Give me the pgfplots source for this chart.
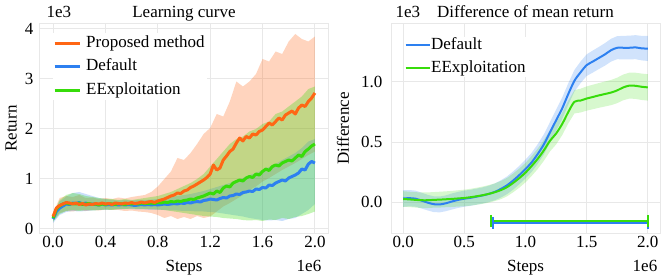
\documentclass[border=0pt]{standalone}
\usepackage{pgfplots}
\pgfplotsset{compat=1.18}
\usepackage{fontspec}
\setmainfont{Liberation Serif}
\definecolor{cO}{RGB}{255,102,20}
\definecolor{cB}{RGB}{45,128,240}
\definecolor{cG}{RGB}{55,220,10}
\definecolor{gridc}{RGB}{232,232,232}
\newcommand{\ff}{\fontsize{17bp}{20bp}\selectfont}
\pgfplotsset{
  myax/.style={
    scale only axis, anchor=south west,
    axis line style={gridc, line width=1bp},
    grid=major, grid style={gridc, line width=1bp},
    major tick length=0pt,
    tick label style={font=\ff},
    /pgf/number format/assume math mode=true,
    x tick label style={/pgf/number format/.cd, fixed, fixed zerofill, precision=1, /tikz/.cd},
    every axis x label/.style={at={(axis description cs:0.5,0)}, anchor=base, yshift=-38bp, font=\ff},
    every axis title/.style={at={(axis description cs:0.5,1)}, anchor=base, yshift=6bp, font=\ff},
    legend cell align=left,
  }
}
\begin{document}
\begin{tikzpicture}
\path[use as bounding box] (0,0) rectangle (664bp,277bp);

% ---------------- Left: learning curve ----------------
\begin{axis}[myax, at={(40bp,44bp)}, width=288bp, height=209bp,
  xmin=-0.1, xmax=2.1, ymin=-0.08, ymax=4.1,
  xtick={0,0.4,0.8,1.2,1.6,2.0}, ytick={0,1,2,3,4},
  yticklabel style={xshift=-3bp},
  title={Learning curve}, xlabel={Steps}, ylabel={Return},
  every axis y label/.style={at={(axis description cs:-0.1,0.5)}, rotate=90, anchor=center, font=\ff},
  legend style={at={(axis description cs:0.045,0.957)}, anchor=north west, draw=none, fill=white, font=\ff,
    inner sep=0pt, row sep=3.5bp, column sep=3bp, nodes={inner sep=2bp, text height=12bp, text depth=4bp}},
  legend image code/.code={\draw[#1] (0bp,0bp) -- (25bp,0bp);},
]
\addlegendimage{cO, line width=3bp}\addlegendentry{Proposed method}
\addlegendimage{cB, line width=3bp}\addlegendentry{Default}
\addlegendimage{cG, line width=3bp}\addlegendentry{EExploitation}

% orange band
\addplot[forget plot, draw=none, fill=cO, fill opacity=0.28] coordinates {
(0.00,0.32) (0.05,0.62) (0.10,0.66) (0.15,0.64) (0.20,0.68) (0.25,0.62) (0.30,0.63) (0.35,0.60) (0.40,0.62) (0.45,0.60)
(0.50,0.63) (0.55,0.61) (0.60,0.64) (0.65,0.66) (0.70,0.68) (0.75,0.74) (0.80,0.85) (0.85,1.00) (0.90,1.15) (0.95,1.42)
(1.00,1.38) (1.05,1.52) (1.10,1.70) (1.15,1.90) (1.20,2.02) (1.25,2.30) (1.30,2.25) (1.35,2.55) (1.40,2.95) (1.45,2.85)
(1.50,2.95) (1.55,3.10) (1.60,3.40) (1.65,3.35) (1.70,3.55) (1.75,3.50) (1.80,3.75) (1.85,3.90) (1.90,3.80) (1.95,3.75) (2.00,3.85)
(2.00,1.55) (1.95,1.48) (1.90,1.40) (1.85,1.32) (1.80,1.25) (1.75,1.18) (1.70,1.10) (1.65,1.02) (1.60,0.95) (1.55,0.85)
(1.50,0.78) (1.45,0.68) (1.40,0.60) (1.35,0.52) (1.30,0.45) (1.25,0.35) (1.20,0.25) (1.15,0.22) (1.10,0.26) (1.05,0.20)
(1.00,0.24) (0.95,0.20) (0.90,0.26) (0.85,0.22) (0.80,0.28) (0.75,0.32) (0.70,0.34) (0.65,0.35) (0.60,0.37) (0.55,0.36)
(0.50,0.38) (0.45,0.38) (0.40,0.39) (0.35,0.37) (0.30,0.38) (0.25,0.36) (0.20,0.38) (0.15,0.35) (0.10,0.36) (0.05,0.32) (0.00,0.18)
} -- cycle;
% blue band
\addplot[forget plot, draw=none, fill=cB, fill opacity=0.25] coordinates {
(0.00,0.30) (0.05,0.55) (0.10,0.65) (0.15,0.72) (0.20,0.74) (0.25,0.70) (0.30,0.66) (0.35,0.62) (0.40,0.60) (0.45,0.58)
(0.50,0.57) (0.55,0.58) (0.60,0.57) (0.65,0.58) (0.70,0.58) (0.75,0.59) (0.80,0.60) (0.85,0.62) (0.90,0.64) (0.95,0.66)
(1.00,0.68) (1.05,0.70) (1.10,0.73) (1.15,0.76) (1.20,0.80) (1.25,0.84) (1.30,0.88) (1.35,0.92) (1.40,0.98) (1.45,1.02)
(1.50,1.08) (1.55,1.12) (1.60,1.18) (1.65,1.24) (1.70,1.30) (1.75,1.38) (1.80,1.45) (1.85,1.52) (1.90,1.62) (1.95,1.75) (2.00,1.80)
(2.00,0.50) (1.95,0.38) (1.90,0.30) (1.85,0.22) (1.80,0.20) (1.75,0.16) (1.70,0.18) (1.65,0.17) (1.60,0.18) (1.55,0.20)
(1.50,0.22) (1.45,0.25) (1.40,0.27) (1.35,0.29) (1.30,0.31) (1.25,0.33) (1.20,0.34) (1.15,0.35) (1.10,0.35) (1.05,0.36)
(1.00,0.36) (0.95,0.37) (0.90,0.37) (0.85,0.38) (0.80,0.38) (0.75,0.38) (0.70,0.39) (0.65,0.39) (0.60,0.40) (0.55,0.40)
(0.50,0.39) (0.45,0.39) (0.40,0.38) (0.35,0.38) (0.30,0.37) (0.25,0.36) (0.20,0.35) (0.15,0.36) (0.10,0.34) (0.05,0.28) (0.00,0.12)
} -- cycle;
% green band
\addplot[forget plot, draw=none, fill=cG, fill opacity=0.3] coordinates {
(0.00,0.30) (0.05,0.58) (0.10,0.68) (0.15,0.72) (0.20,0.70) (0.25,0.66) (0.30,0.64) (0.35,0.62) (0.40,0.60) (0.45,0.60)
(0.50,0.58) (0.55,0.60) (0.60,0.58) (0.65,0.60) (0.70,0.62) (0.75,0.64) (0.80,0.66) (0.85,0.70) (0.90,0.74) (0.95,0.80)
(1.00,0.86) (1.05,0.92) (1.10,1.00) (1.15,1.10) (1.20,1.25) (1.25,1.40) (1.30,1.55) (1.35,1.70) (1.40,1.80) (1.45,1.85)
(1.50,1.95) (1.55,2.00) (1.60,2.10) (1.65,2.15) (1.70,2.30) (1.75,2.35) (1.80,2.45) (1.85,2.55) (1.90,2.65) (1.95,2.80) (2.00,2.85)
(2.00,0.35) (1.95,0.30) (1.90,0.26) (1.85,0.24) (1.80,0.20) (1.75,0.22) (1.70,0.18) (1.65,0.19) (1.60,0.16) (1.55,0.18)
(1.50,0.17) (1.45,0.18) (1.40,0.20) (1.35,0.21) (1.30,0.22) (1.25,0.24) (1.20,0.25) (1.15,0.26) (1.10,0.28) (1.05,0.30)
(1.00,0.32) (0.95,0.34) (0.90,0.36) (0.85,0.38) (0.80,0.39) (0.75,0.40) (0.70,0.40) (0.65,0.40) (0.60,0.41) (0.55,0.40)
(0.50,0.40) (0.45,0.38) (0.40,0.39) (0.35,0.38) (0.30,0.37) (0.25,0.38) (0.20,0.36) (0.15,0.38) (0.10,0.36) (0.05,0.30) (0.00,0.15)
} -- cycle;

% blue mean
\addplot[forget plot, cB, line width=3bp, line join=round] coordinates {
(0.000,0.20) (0.025,0.35) (0.050,0.42) (0.075,0.46) (0.100,0.50) (0.125,0.49) (0.150,0.52) (0.175,0.51) (0.200,0.53) (0.225,0.50)
(0.250,0.52) (0.275,0.49) (0.300,0.50) (0.325,0.49) (0.350,0.48) (0.375,0.50) (0.400,0.48) (0.425,0.49) (0.450,0.48) (0.475,0.49)
(0.500,0.48) (0.525,0.49) (0.550,0.48) (0.575,0.49) (0.600,0.48) (0.625,0.47) (0.650,0.48) (0.675,0.49) (0.700,0.48) (0.725,0.49)
(0.750,0.48) (0.775,0.49) (0.800,0.48) (0.825,0.49) (0.850,0.50) (0.875,0.49) (0.900,0.50) (0.925,0.51) (0.950,0.50) (0.975,0.52)
(1.000,0.51) (1.025,0.53) (1.050,0.52) (1.075,0.54) (1.100,0.55) (1.125,0.54) (1.150,0.57) (1.175,0.58) (1.200,0.60) (1.225,0.59)
(1.250,0.58) (1.275,0.61) (1.300,0.63) (1.325,0.62) (1.350,0.66) (1.375,0.67) (1.400,0.70) (1.425,0.69) (1.450,0.73) (1.475,0.74)
(1.500,0.76) (1.525,0.75) (1.550,0.80) (1.575,0.79) (1.600,0.83) (1.625,0.82) (1.650,0.88) (1.675,0.87) (1.700,0.92) (1.725,0.95)
(1.750,0.98) (1.775,0.96) (1.800,1.02) (1.825,1.05) (1.850,1.08) (1.875,1.12) (1.900,1.20) (1.925,1.18) (1.950,1.30) (1.975,1.35) (2.000,1.32)
};
% green mean
\addplot[forget plot, cG, line width=3bp, line join=round] coordinates {
(0.000,0.22) (0.025,0.40) (0.050,0.46) (0.075,0.50) (0.100,0.52) (0.125,0.50) (0.150,0.51) (0.175,0.50) (0.200,0.52) (0.225,0.49)
(0.250,0.50) (0.275,0.51) (0.300,0.49) (0.325,0.50) (0.350,0.48) (0.375,0.50) (0.400,0.49) (0.425,0.51) (0.450,0.50) (0.475,0.49)
(0.500,0.51) (0.525,0.50) (0.550,0.49) (0.575,0.51) (0.600,0.50) (0.625,0.51) (0.650,0.50) (0.675,0.52) (0.700,0.51) (0.725,0.51)
(0.750,0.52) (0.775,0.51) (0.800,0.53) (0.825,0.52) (0.850,0.54) (0.875,0.53) (0.900,0.55) (0.925,0.54) (0.950,0.56) (0.975,0.55)
(1.000,0.57) (1.025,0.58) (1.050,0.60) (1.075,0.59) (1.100,0.62) (1.125,0.64) (1.150,0.66) (1.175,0.69) (1.200,0.72) (1.225,0.70)
(1.250,0.76) (1.275,0.73) (1.300,0.82) (1.325,0.86) (1.350,0.84) (1.375,0.92) (1.400,0.95) (1.425,0.98) (1.450,0.96) (1.475,1.02)
(1.500,1.05) (1.525,1.03) (1.550,1.10) (1.575,1.08) (1.600,1.15) (1.625,1.20) (1.650,1.17) (1.675,1.25) (1.700,1.28) (1.725,1.26)
(1.750,1.32) (1.775,1.35) (1.800,1.38) (1.825,1.36) (1.850,1.42) (1.875,1.48) (1.900,1.45) (1.925,1.55) (1.950,1.60) (1.975,1.66) (2.000,1.70)
};
% orange mean
\addplot[forget plot, cO, line width=3bp, line join=round] coordinates {
(0.000,0.25) (0.025,0.42) (0.050,0.47) (0.075,0.50) (0.100,0.53) (0.125,0.52) (0.150,0.50) (0.175,0.52) (0.200,0.49) (0.225,0.51)
(0.250,0.48) (0.275,0.50) (0.300,0.49) (0.325,0.51) (0.350,0.50) (0.375,0.52) (0.400,0.50) (0.425,0.51) (0.450,0.49) (0.475,0.52)
(0.500,0.51) (0.525,0.50) (0.550,0.52) (0.575,0.51) (0.600,0.53) (0.625,0.51) (0.650,0.52) (0.675,0.54) (0.700,0.52) (0.725,0.54)
(0.750,0.55) (0.775,0.53) (0.800,0.56) (0.825,0.58) (0.850,0.60) (0.875,0.63) (0.900,0.66) (0.925,0.68) (0.950,0.72) (0.975,0.71)
(1.000,0.76) (1.025,0.78) (1.050,0.83) (1.075,0.86) (1.100,0.90) (1.125,0.94) (1.150,0.98) (1.175,1.03) (1.200,1.10) (1.225,1.28)
(1.250,1.18) (1.275,1.22) (1.300,1.38) (1.325,1.46) (1.350,1.55) (1.375,1.60) (1.400,1.72) (1.425,1.82) (1.450,1.76) (1.475,1.85)
(1.500,1.82) (1.525,1.90) (1.550,1.88) (1.575,1.95) (1.600,1.98) (1.625,2.05) (1.650,2.12) (1.675,2.08) (1.700,2.15) (1.725,2.22)
(1.750,2.18) (1.775,2.28) (1.800,2.32) (1.825,2.36) (1.850,2.30) (1.875,2.42) (1.900,2.48) (1.925,2.45) (1.950,2.55) (1.975,2.62) (2.000,2.72)
};
\end{axis}

% ---------------- Right: difference ----------------
\begin{axis}[myax, at={(391bp,44bp)}, width=269bp, height=209bp,
  xmin=-0.1, xmax=2.1, ymin=-0.258, ymax=1.483,
  xtick={0,0.5,1.0,1.5,2.0}, ytick={0,0.5,1.0},
  yticklabel style={xshift=-5bp, /pgf/number format/.cd, fixed, fixed zerofill, precision=1, /tikz/.cd},
  title={Difference of mean return}, xlabel={Steps}, ylabel={Difference},
  every axis y label/.style={at={(axis description cs:-0.179,0.5)}, rotate=90, anchor=center, font=\ff},
  legend style={at={(axis description cs:0.05,0.94)}, anchor=north west, draw=none, fill=white, font=\ff,
    inner sep=0pt, row sep=6bp, nodes={inner sep=0.5bp, text height=12bp, text depth=4bp}},
  legend image code/.code={\draw[#1] (0bp,0bp) -- (24bp,0bp);},
]
\addlegendimage{cB, line width=2bp}\addlegendentry{Default}
\addlegendimage{cG, line width=2bp}\addlegendentry{EExploitation}

% blue band
\addplot[forget plot, draw=none, fill=cB, fill opacity=0.22] coordinates {
(0.00,0.100) (0.05,0.100) (0.10,0.095) (0.15,0.078) (0.20,0.060) (0.25,0.048) (0.30,0.046) (0.35,0.056) (0.40,0.072) (0.45,0.085)
(0.50,0.095) (0.55,0.102) (0.60,0.112) (0.65,0.122) (0.70,0.136) (0.75,0.155) (0.80,0.182) (0.85,0.214) (0.90,0.256) (0.95,0.302)
(1.00,0.354) (1.05,0.410) (1.10,0.482) (1.15,0.564) (1.20,0.666) (1.25,0.768) (1.30,0.870) (1.35,0.990) (1.40,1.100) (1.45,1.170)
(1.50,1.230) (1.55,1.262) (1.60,1.292) (1.65,1.324) (1.70,1.360) (1.75,1.382) (1.80,1.384) (1.85,1.386) (1.90,1.390) (1.95,1.384) (2.00,1.385)
(2.00,1.175) (1.95,1.180) (1.90,1.190) (1.85,1.188) (1.80,1.188) (1.75,1.190) (1.70,1.170) (1.65,1.136) (1.60,1.108) (1.55,1.078)
(1.50,1.050) (1.45,0.990) (1.40,0.920) (1.35,0.810) (1.30,0.690) (1.25,0.592) (1.20,0.494) (1.15,0.396) (1.10,0.318) (1.05,0.250)
(1.00,0.196) (0.95,0.148) (0.90,0.104) (0.85,0.066) (0.80,0.038) (0.75,0.015) (0.70,0.000) (0.65,-0.012) (0.60,-0.022) (0.55,-0.032)
(0.50,-0.039) (0.45,-0.049) (0.40,-0.062) (0.35,-0.076) (0.30,-0.086) (0.25,-0.084) (0.20,-0.070) (0.15,-0.054) (0.10,-0.039) (0.05,-0.036) (0.00,-0.040)
} -- cycle;
% green band
\addplot[forget plot, draw=none, fill=cG, fill opacity=0.2] coordinates {
(0.00,0.090) (0.05,0.086) (0.10,0.082) (0.15,0.080) (0.20,0.080) (0.25,0.083) (0.30,0.086) (0.35,0.089) (0.40,0.093) (0.45,0.098)
(0.50,0.103) (0.55,0.110) (0.60,0.119) (0.65,0.129) (0.70,0.141) (0.75,0.156) (0.80,0.176) (0.85,0.202) (0.90,0.238) (0.95,0.280)
(1.00,0.326) (1.05,0.383) (1.10,0.445) (1.15,0.517) (1.20,0.599) (1.25,0.661) (1.30,0.743) (1.35,0.845) (1.40,0.932) (1.45,0.944)
(1.50,0.963) (1.55,0.977) (1.60,0.991) (1.65,1.004) (1.70,1.017) (1.75,1.036) (1.80,1.062) (1.85,1.078) (1.90,1.077) (1.95,1.070) (2.00,1.065)
(2.00,0.845) (1.95,0.850) (1.90,0.859) (1.85,0.862) (1.80,0.848) (1.75,0.824) (1.70,0.807) (1.65,0.796) (1.60,0.785) (1.55,0.773)
(1.50,0.761) (1.45,0.746) (1.40,0.738) (1.35,0.655) (1.30,0.557) (1.25,0.479) (1.20,0.421) (1.15,0.343) (1.10,0.275) (1.05,0.217)
(1.00,0.164) (0.95,0.120) (0.90,0.082) (0.85,0.048) (0.80,0.024) (0.75,0.008) (0.70,-0.005) (0.65,-0.015) (0.60,-0.023) (0.55,-0.030)
(0.50,-0.035) (0.45,-0.038) (0.40,-0.041) (0.35,-0.043) (0.30,-0.046) (0.25,-0.047) (0.20,-0.050) (0.15,-0.050) (0.10,-0.046) (0.05,-0.042) (0.00,-0.040)
} -- cycle;

\addplot[forget plot, cB, line width=2bp, line join=round, smooth] coordinates {
(0.00,0.030) (0.05,0.032) (0.10,0.028) (0.15,0.012) (0.20,-0.005) (0.25,-0.018) (0.30,-0.020) (0.35,-0.010) (0.40,0.005) (0.45,0.018)
(0.50,0.028) (0.55,0.035) (0.60,0.045) (0.65,0.055) (0.70,0.068) (0.75,0.085) (0.80,0.110) (0.85,0.140) (0.90,0.180) (0.95,0.225)
(1.00,0.275) (1.05,0.330) (1.10,0.400) (1.15,0.480) (1.20,0.580) (1.25,0.680) (1.30,0.780) (1.35,0.900) (1.40,1.010) (1.45,1.080)
(1.50,1.140) (1.55,1.170) (1.60,1.200) (1.65,1.230) (1.70,1.265) (1.75,1.285) (1.80,1.285) (1.85,1.285) (1.90,1.288) (1.95,1.280) (2.00,1.278)
};
\addplot[forget plot, cG, line width=2bp, line join=round, smooth] coordinates {
(0.00,0.025) (0.05,0.022) (0.10,0.018) (0.15,0.015) (0.20,0.015) (0.25,0.018) (0.30,0.020) (0.35,0.023) (0.40,0.026) (0.45,0.030)
(0.50,0.034) (0.55,0.040) (0.60,0.048) (0.65,0.057) (0.70,0.068) (0.75,0.082) (0.80,0.100) (0.85,0.125) (0.90,0.160) (0.95,0.200)
(1.00,0.245) (1.05,0.300) (1.10,0.360) (1.15,0.430) (1.20,0.510) (1.25,0.570) (1.30,0.650) (1.35,0.750) (1.40,0.835) (1.45,0.845)
(1.50,0.862) (1.55,0.875) (1.60,0.888) (1.65,0.900) (1.70,0.912) (1.75,0.930) (1.80,0.955) (1.85,0.970) (1.90,0.968) (1.95,0.960) (2.00,0.955)
};
% significance bars
\addplot[forget plot, cB, line width=2bp, mark=|, mark size=6bp, mark options={solid, line width=2bp}] coordinates {(0.735,-0.178) (2.0,-0.178)};
\addplot[forget plot, cG, line width=2bp, mark=|, mark size=6bp, mark options={solid, line width=2bp}] coordinates {(0.72,-0.158) (2.0,-0.158)};
\end{axis}

% scale factors
\node[font=\ff, anchor=base west] at (43bp,259bp) {1e3};
\node[font=\ff, anchor=base] at (309bp,6bp) {1e6};
\node[font=\ff, anchor=base west] at (392bp,259bp) {1e3};
\node[font=\ff, anchor=base] at (645bp,6bp) {1e6};
\end{tikzpicture}
\end{document}
